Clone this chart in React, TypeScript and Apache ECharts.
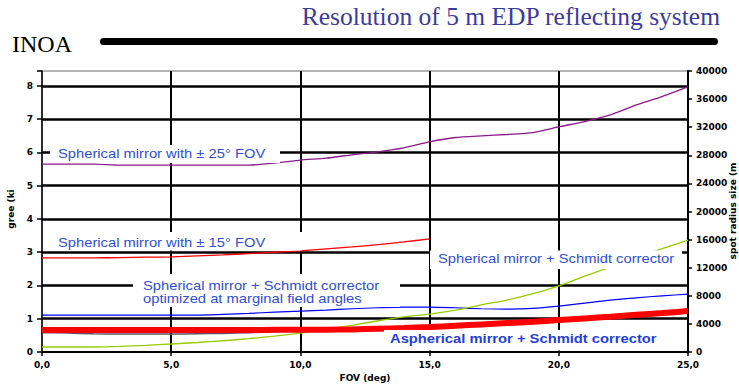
import React, { useEffect, useRef } from 'react';
import * as echarts from 'echarts';

const fov = [0, 1, 2, 3, 4, 5, 6, 7, 8, 9, 10, 11, 12, 13, 14, 15, 16, 17, 18, 19, 20, 21, 22, 23, 24, 25];
const xTicks = [0, 5, 10, 15, 20, 25];

// left axis units
const spherical25 = [5.65, 5.65, 5.65, 5.62, 5.62, 5.62, 5.62, 5.62, 5.62, 5.68, 5.77, 5.83, 5.93, 6.02, 6.14, 6.32, 6.45, 6.5, 6.54, 6.6, 6.77, 6.93, 7.13, 7.43, 7.68, 7.97];
const spherical15 = [2.83, 2.83, 2.83, 2.84, 2.85, 2.86, 2.89, 2.92, 2.96, 3.0, 3.04, 3.1, 3.16, 3.23, 3.31, 3.4];
const schmidtOptimized = [1.11, 1.11, 1.11, 1.11, 1.11, 1.11, 1.11, 1.13, 1.16, 1.2, 1.23, 1.26, 1.3, 1.33, 1.35, 1.35, 1.33, 1.3, 1.29, 1.31, 1.38, 1.47, 1.56, 1.63, 1.69, 1.74];
const asphericalSchmidt = [0.66, 0.66, 0.66, 0.66, 0.66, 0.66, 0.66, 0.66, 0.66, 0.67, 0.67, 0.67, 0.68, 0.7, 0.72, 0.75, 0.79, 0.83, 0.87, 0.91, 0.96, 1.01, 1.06, 1.12, 1.17, 1.23];
const greyTrace = [0.58, 0.57, 0.55, 0.54, 0.54, 0.54, 0.55, 0.56, 0.58, 0.61, 0.64];
// right axis units (spot radius size)
const sphericalSchmidt = [712, 712, 712, 800, 950, 1140, 1350, 1600, 1900, 2250, 2700, 3200, 3800, 4450, 5000, 5400, 5950, 6700, 7400, 8300, 9400, 10800, 12100, 13400, 14700, 15940];

const leftMax = 8.45;
const rightTicks = [0, 4000, 8000, 12000, 16000, 20000, 24000, 28000, 32000, 36000, 40000];

const pairs = (vals: number[]) => vals.map((v, i) => [fov[i], v]);

const axisFont = { fontFamily: 'DejaVu Sans', fontWeight: 'bold' as const, fontSize: 9, color: '#000' };

export default function App() {
  const ref = useRef<HTMLDivElement>(null);
  useEffect(() => {
    if (!ref.current) return;
    const chart = echarts.init(ref.current, null, { renderer: 'svg' });
    const labelFont = 'Liberation Sans, Arial, sans-serif';
    const sx = 1.18;
    const box = (x: number, y: number, w: number, h: number) => ({
      type: 'rect', z: 100, shape: { x, y, width: w, height: h }, style: { fill: '#fff' },
    });
    const label = (text: string, x: number, y: number, bold = false, color = '#2e4fd6') => ({
      type: 'text', z: 101, x, y, scaleX: sx,
      style: { text, fill: color, font: `${bold ? 'bold ' : ''}12.5px ${labelFont}`, textAlign: 'left', textVerticalAlign: 'middle' },
    });
    const axisName = (text: string, x: number, y: number) => ({
      type: 'text', z: 101, x, y, rotation: Math.PI / 2,
      style: { text, fill: '#000', font: 'bold 9px DejaVu Sans', textAlign: 'center', textVerticalAlign: 'middle' },
    });
    const option: any = {
      animation: false,
      grid: { left: 42, right: 51, top: 71, bottom: 33, outerBoundsMode: 'none', containLabel: false, show: true, borderColor: '#9a9a9a', borderWidth: 1.5, backgroundColor: 'transparent' },
      xAxis: {
        type: 'value', min: xTicks[0], max: xTicks[xTicks.length - 1], interval: 5,
        name: 'FOV (deg)', nameLocation: 'middle', nameGap: 20, nameTextStyle: { ...axisFont },
        axisLine: { show: true, onZero: false, lineStyle: { color: '#000', width: 2 } },
        axisTick: { show: true, length: 4, lineStyle: { color: '#000', width: 1.5 } },
        axisLabel: { ...axisFont, margin: 8, formatter: (v: number) => v.toFixed(1).replace('.', ',') },
        splitLine: { show: true, showMinLine: false, showMaxLine: false, lineStyle: { color: '#000', width: 2 } },
      },
      yAxis: [
        {
          type: 'value', position: 'left', min: 0, max: leftMax, interval: 1,
          axisLine: { show: true, lineStyle: { color: '#000', width: 1.5 } },
          axisTick: { show: true, length: 5, lineStyle: { color: '#000', width: 1.5 } },
          axisLabel: { ...axisFont, margin: 9, formatter: (v: number) => (Number.isInteger(v) ? String(v) : '') },
          splitLine: { show: true, showMinLine: false, showMaxLine: false, lineStyle: { color: '#000', width: 2.5 } },
        },
        {
          type: 'value', position: 'right', min: rightTicks[0], max: rightTicks[rightTicks.length - 1], interval: 4000,
          axisLine: { show: true, lineStyle: { color: '#000', width: 2 } },
          axisTick: { show: true, length: 4, lineStyle: { color: '#000', width: 1.5 } },
          axisLabel: { ...axisFont, margin: 8, formatter: (v: number) => String(v) },
          splitLine: { show: false },
        },
      ],
      series: [
        { type: 'line', name: 'Spherical mirror with ± 25° FOV', data: pairs(spherical25), yAxisIndex: 0, symbol: 'none', smooth: 0.2, lineStyle: { color: '#8b1a8b', width: 1.3 }, z: 3 },
        { type: 'line', name: 'Spherical mirror with ± 15° FOV', data: pairs(spherical15), yAxisIndex: 0, symbol: 'none', smooth: 0.2, lineStyle: { color: '#ff0000', width: 1.3 }, z: 3 },
        { type: 'line', name: 'Spherical mirror + Schmidt corrector optimized', data: pairs(schmidtOptimized), yAxisIndex: 0, symbol: 'none', smooth: 0.2, lineStyle: { color: '#0000ff', width: 1.2 }, z: 3 },
        { type: 'line', name: 'Spherical mirror + Schmidt corrector', data: pairs(sphericalSchmidt), yAxisIndex: 1, symbol: 'none', smooth: 0.2, lineStyle: { color: '#99cc00', width: 1.3 }, z: 3 },
        { type: 'line', name: 'grey', data: pairs(greyTrace), yAxisIndex: 0, symbol: 'none', smooth: 0.2, lineStyle: { color: '#555', width: 1.5 }, z: 3 },
        { type: 'line', name: 'Aspherical mirror + Schmidt corrector', data: pairs(asphericalSchmidt), yAxisIndex: 0, symbol: 'none', smooth: 0.2, lineStyle: { color: '#ff0000', width: 6 }, z: 4 },
      ],
      graphic: [
        { type: 'text', z: 101, x: 720, y: 16, style: { text: 'Resolution of 5 m EDP reflecting system', fill: '#3b3b9b', font: '25.5px Liberation Serif, Times New Roman, serif', textAlign: 'right', textVerticalAlign: 'middle' } },
        { type: 'text', z: 101, x: 12, y: 44, style: { text: 'INOA', fill: '#000', font: '24px Liberation Serif, Times New Roman, serif', textAlign: 'left', textVerticalAlign: 'middle' } },
        { type: 'rect', z: 101, shape: { x: 100, y: 38, width: 618, height: 7, r: 3.5 }, style: { fill: '#000' } },
        axisName('gree (ki', 11, 209),
        axisName('spot radius size (m', 733, 211),
        box(50, 145, 230, 18),
        label('Spherical mirror with ± 25° FOV', 58, 154),
        box(50, 232, 252, 18.5),
        label('Spherical mirror with ± 15° FOV', 58, 242.5),
        box(133, 274, 267, 33),
        label('Spherical mirror + Schmidt corrector', 143, 286),
        label('optimized at marginal field angles', 143, 298.5),
        box(430, 250.5, 252, 18.5),
        label('Spherical mirror + Schmidt corrector', 438, 259),
        box(384, 330, 280, 20.5),
        label('Aspherical mirror + Schmidt corrector', 390, 338.5, true, '#1e40d8'),
      ],
    };
    chart.setOption(option);
    return () => chart.dispose();
  }, []);
  return <div ref={ref} style={{ width: 739, height: 385, position: 'absolute', left: 0, top: 0 }} />;
}
